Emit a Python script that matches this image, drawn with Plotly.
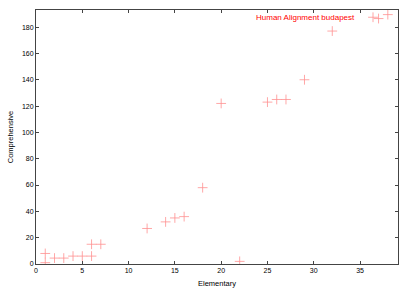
import plotly.graph_objects as go

elementary = [1, 1, 2, 3, 4, 5, 6, 6, 7, 12, 14, 15, 16, 18, 20, 22, 25, 26, 27, 29, 32, 36.4, 37, 38]
comprehensive = [8, 1, 4.5, 4.5, 6, 6, 6, 15, 15, 27, 32, 35, 36, 58, 122, 2, 123, 125, 125, 140, 177, 187.5, 186.5, 189.5]
series_name = "Human Alignment budapest"
x_ticks = [0, 5, 10, 15, 20, 25, 30, 35]
y_ticks = [0, 20, 40, 60, 80, 100, 120, 140, 160, 180]

fig = go.Figure()
fig.add_trace(go.Scatter(
    x=elementary, y=comprehensive, mode="markers", name=series_name,
    marker=dict(symbol="cross-thin", size=7, line=dict(color="#ff9090", width=0.8), color="#ff9090"),
    showlegend=False,
))
fig.add_annotation(
    text=series_name, xref="paper", yref="paper", x=0.888, y=0.972,
    xanchor="right", yanchor="middle", showarrow=False,
    font=dict(color="#ff0000", size=8, family="Liberation Sans"),
)

axis_common = dict(
    showgrid=False, zeroline=False, showline=True, mirror="ticks", automargin=False,
    linecolor="#444444", linewidth=1, ticks="inside", ticklen=3, tickcolor="#444444",
    tickfont=dict(size=7, family="Liberation Sans", color="#000"),
)
fig.update_xaxes(range=[0, 39.1], tickvals=x_ticks,
                 title=dict(text="Elementary", font=dict(size=7.5, family="Liberation Sans", color="#000"), standoff=8),
                 **axis_common)
fig.update_yaxes(range=[0, 193], tickvals=y_ticks,
                 title=dict(text="Comprehensive", font=dict(size=7.5, family="Liberation Sans", color="#000"), standoff=7),
                 **axis_common)
fig.update_layout(
    width=411, height=288, margin=dict(l=36, r=13, t=10, b=24),
    plot_bgcolor="white", paper_bgcolor="white",
)
fig.write_html("out.html")
